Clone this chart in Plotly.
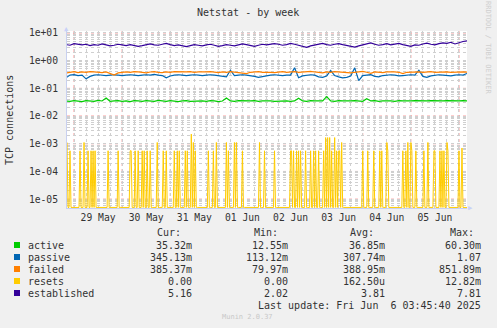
import plotly.graph_objects as go
import pandas as pd
import numpy as np

# ---------------- data ----------------
series_start = "2025-05-28 20:00"
series_end = "2025-06-06 04:00"   # 2-hour samples

active = [0.035,0.034,0.036,0.035,0.033,0.036,0.035,0.034,0.037,0.035,0.045,0.034,0.035,0.036,0.034,0.035,0.033,0.036,0.035,0.034,
          0.036,0.035,0.034,0.037,0.035,0.034,0.036,0.035,0.033,0.035,0.036,0.034,0.035,0.036,
          0.035,0.034,0.036,0.035,0.033,0.035,0.045,0.035,0.034,0.036,0.035,0.034,0.035,0.036,0.034,0.035,0.036,0.035,0.034,0.035,
          0.036,0.035,0.034,0.035,0.044,0.035,0.034,0.036,0.035,0.034,0.035,0.050,0.035,
          0.034,0.036,0.035,0.034,0.035,0.036,0.035,0.034,0.042,0.035,0.036,0.034,0.035,0.036,0.035,0.034,0.036,0.035,0.034,0.035,
          0.036,0.035,0.034,0.035,0.036,0.035,0.034,0.035,0.036,0.035,0.034,0.035,0.036,0.0353]

passive = [0.24,0.30,0.31,0.29,0.30,0.22,0.27,0.30,0.31,0.30,0.29,0.30,0.31,0.30,0.29,0.30,0.31,0.30,0.29,0.30,
           0.31,0.30,0.32,0.30,0.29,0.24,0.28,0.30,0.31,0.30,0.29,0.30,0.31,0.30,
           0.29,0.30,0.31,0.30,0.29,0.27,0.26,0.45,0.29,0.30,0.31,0.30,0.29,0.27,0.25,0.27,0.29,0.30,0.31,0.30,
           0.29,0.30,0.30,0.55,0.24,0.28,0.30,0.31,0.30,0.26,0.25,0.28,0.44,
           0.29,0.26,0.24,0.25,0.28,0.55,0.19,0.29,0.30,0.31,0.27,0.26,0.29,0.30,0.31,0.30,0.28,0.29,0.30,0.31,
           0.30,0.45,0.27,0.25,0.28,0.30,0.31,0.30,0.29,0.28,0.30,0.31,0.30,0.345]

failed = [0.36,0.38,0.40,0.37,0.39,0.38,0.40,0.39,0.38,0.37,0.39,0.34,0.30,0.36,0.38,0.39,0.38,0.40,0.39,0.38,
          0.36,0.39,0.40,0.38,0.37,0.39,0.38,0.40,0.39,0.38,0.39,0.40,0.38,0.39,
          0.38,0.39,0.40,0.38,0.37,0.39,0.38,0.40,0.39,0.38,0.36,0.34,0.38,0.39,0.40,0.38,0.39,0.38,0.37,0.39,
          0.40,0.38,0.39,0.40,0.38,0.39,0.40,0.41,0.39,0.38,0.36,0.39,0.38,
          0.40,0.39,0.38,0.39,0.36,0.38,0.40,0.41,0.38,0.35,0.39,0.38,0.37,0.39,0.40,0.39,0.38,0.34,0.38,0.39,
          0.40,0.39,0.38,0.39,0.40,0.38,0.39,0.40,0.39,0.38,0.39,0.40,0.39,0.385]

established = [3.8,3.6,4.1,4.0,3.7,3.9,3.5,3.8,3.6,4.0,3.7,3.4,3.6,3.9,3.7,3.5,3.8,3.6,3.3,3.5,
               3.8,4.0,3.7,3.6,3.9,4.2,3.8,3.5,3.7,3.4,3.2,3.5,3.8,3.6,
               3.4,3.7,3.9,3.6,3.3,3.5,3.8,3.6,3.4,3.7,4.0,3.8,3.5,3.3,3.6,3.9,3.7,3.8,4.1,3.9,
               3.6,3.8,4.2,3.9,3.5,3.2,3.0,3.4,3.7,3.9,4.2,3.8,3.6,
               3.9,4.1,3.8,3.5,3.3,3.1,3.4,3.7,4.0,4.4,3.9,3.6,3.8,4.1,3.7,3.9,4.2,3.8,3.5,3.3,
               3.7,3.6,4.0,4.3,3.9,3.7,4.1,4.4,4.2,4.6,4.0,4.5,4.9,5.16]

# resets: 30-minute samples, zero except these
resets_start = "2025-05-28 20:30"
resets_end = "2025-06-06 04:00"
reset_times = ["2025-05-28 20:30","2025-05-28 22:00","2025-05-29 03:00","2025-05-29 05:00","2025-05-29 07:00",
               "2025-05-29 08:30","2025-05-29 09:30","2025-05-29 10:30","2025-05-29 17:00","2025-05-29 22:00",
               "2025-05-30 04:00","2025-05-30 04:30","2025-05-30 06:30","2025-05-30 08:00","2025-05-30 10:00",
               "2025-05-30 11:00","2025-05-30 12:30","2025-05-30 14:00","2025-05-30 17:30","2025-05-30 20:30",
               "2025-05-30 22:00","2025-05-31 02:00","2025-05-31 03:30","2025-05-31 04:30","2025-05-31 07:30",
               "2025-05-31 08:30","2025-05-31 10:30","2025-05-31 11:30","2025-05-31 12:30","2025-05-31 19:00",
               "2025-05-31 21:30","2025-05-31 23:00","2025-06-01 04:00","2025-06-01 05:00","2025-06-01 08:00",
               "2025-06-01 09:00","2025-06-01 12:00","2025-06-01 20:30","2025-06-01 23:00","2025-06-02 04:00",
               "2025-06-02 12:00","2025-06-02 12:30","2025-06-02 13:30","2025-06-02 15:00","2025-06-02 16:00",
               "2025-06-02 17:00","2025-06-02 19:30","2025-06-02 22:00","2025-06-02 23:30","2025-06-03 00:30",
               "2025-06-03 02:00","2025-06-03 04:30","2025-06-03 05:30","2025-06-03 06:30","2025-06-03 07:30",
               "2025-06-03 08:30","2025-06-03 10:00","2025-06-03 11:00","2025-06-03 12:00","2025-06-03 12:30",
               "2025-06-03 13:30","2025-06-04 00:00","2025-06-04 02:30","2025-06-04 05:30","2025-06-04 08:30",
               "2025-06-04 09:30","2025-06-04 12:00","2025-06-04 12:30","2025-06-04 20:00","2025-06-04 21:30",
               "2025-06-04 22:30","2025-06-05 00:00","2025-06-05 00:30","2025-06-05 02:30","2025-06-05 06:30",
               "2025-06-05 08:30","2025-06-05 11:30","2025-06-05 12:00","2025-06-05 14:30","2025-06-05 15:30",
               "2025-06-05 16:30","2025-06-05 18:00","2025-06-05 18:30","2025-06-06 00:00","2025-06-06 01:30"]
reset_values = [0.00111,0.000556,0.000556,0.00111,0.000556,
                0.000556,0.000556,0.000556,0.000556,0.000556,
                0.000556,0.000556,0.000556,0.000556,0.000556,
                0.000556,0.000556,0.000556,0.00111,0.000556,
                0.000556,0.000556,0.000556,0.000556,0.000556,
                0.000556,0.00222,0.00111,0.000556,0.000556,
                0.000556,0.00111,0.00111,0.000556,0.00111,
                0.00111,0.000556,0.00111,0.000556,0.000556,
                0.000556,0.000556,0.000556,0.000556,0.000556,
                0.000556,0.000556,0.000556,0.000556,0.000556,
                0.000556,0.000556,0.00167,0.00167,0.00167,
                0.000556,0.00167,0.000556,0.000556,0.000556,
                0.00111,0.000556,0.000556,0.000556,0.000556,
                0.000556,0.00111,0.000556,0.000556,0.000556,
                0.00111,0.00111,0.000556,0.000556,0.000556,
                0.00111,0.000556,0.000556,0.000556,0.000556,
                0.000556,0.00111,0.000556,0.000556,0.0007]

names = ["active", "passive", "failed", "resets", "established"]
colors = ["#00CC00", "#0066B3", "#FF8000", "#FFCC00", "#330099"]
cur = ["35.32m", "345.13m", "385.37m", "0.00", "5.16"]
mins = ["12.55m", "113.12m", "79.97m", "0.00", "2.02"]
avgs = ["36.85m", "307.74m", "388.95m", "162.50u", "3.81"]
maxs = ["60.30m", "1.07", "851.89m", "12.82m", "7.81"]

ytick_vals = [1e1, 1e0, 1e-1, 1e-2, 1e-3, 1e-4, 1e-5]
ytick_text = ["1e+01", "1e+00", "1e-01", "1e-02", "1e-03", "1e-04", "1e-05"]

# ---------------- layout constants ----------------
W, H = 497, 328
ML, MR, MT, MB = 67, 30, 31, 120
PW, PH = W - ML - MR, H - MT - MB
YLOG = [-5.32, 1.07]
XRANGE = ["2025-05-28 20:30", "2025-06-06 04:00"]
FONT = "DejaVu Sans Mono"
TXT = "#333333"
GREY = "#CFCFCF"
RED = "rgba(255,80,80,0.6)"

def xp(px):
    return (px - ML) / PW

def yp(py):
    return (H - MB - py) / PH

t2 = pd.date_range(series_start, series_end, freq="2h")
grid30 = pd.date_range(resets_start, resets_end, freq="30min")
res = pd.Series(0.0, index=grid30)
res.loc[pd.to_datetime(reset_times)] = reset_values
floor = 10 ** (YLOG[0] + 0.02)
res_plot = np.maximum(res.values, floor)

fig = go.Figure()
data_map = {"active": active, "passive": passive, "failed": failed, "established": established}
for name, col in zip(names, colors):
    if name == "resets":
        fig.add_trace(go.Scatter(x=grid30, y=res_plot, mode="lines",
                                 line=dict(color=col, width=1), showlegend=False))
    else:
        fig.add_trace(go.Scatter(x=t2, y=data_map[name], mode="lines",
                                 line=dict(color=col, width=1.2), showlegend=False))

# all y grid positions (grey), labels only on decades
y_all = []
y_txt = []
for k in range(1, -7, -1):
    for m in range(1, 10):
        v = m * 10.0 ** k
        y_all.append(v)
        y_txt.append(ytick_text[ytick_vals.index(v)] if (m == 1 and v in ytick_vals) else "")

fig.update_layout(
    width=W, height=H,
    margin=dict(l=ML, r=MR, t=MT, b=MB, pad=0),
    paper_bgcolor="#F0F0F0", plot_bgcolor="#FFFFFF",
    font=dict(family=FONT, size=10, color=TXT),
    showlegend=False,
    xaxis=dict(
        type="date", range=XRANGE,
        tick0="2025-05-29 00:00", dtick=86400000,
        ticklabelmode="period", tickformat="%d %b",
        showgrid=True, gridcolor=GREY, griddash="dot", gridwidth=1,
        minor=dict(dtick=21600000, tick0="2025-05-29 00:00", showgrid=True,
                   gridcolor=GREY, griddash="dot", gridwidth=1),
        showline=True, linecolor="#C8D0F0", linewidth=1,
        zeroline=False, ticks="",
        tickfont=dict(family=FONT, size=9.7, color=TXT),
    ),
    yaxis=dict(
        type="log", range=YLOG,
        tickmode="array", tickvals=y_all, ticktext=y_txt,
        showgrid=True, gridcolor=GREY, griddash="dot", gridwidth=1,
        showline=True, linecolor="#C8D0F0", linewidth=1,
        zeroline=False, ticks="outside", ticklen=6, tickcolor="rgba(0,0,0,0)",
        tickfont=dict(family=FONT, size=9.7, color=TXT),
    ),
)

shapes = []
# red major grid: decades and midnights, between grid and traces
for v in ytick_vals:
    shapes.append(dict(type="line", xref="paper", yref="y", x0=0, x1=1, y0=v, y1=v,
                       layer="between", line=dict(color=RED, width=1, dash="dot")))
for d in pd.date_range("2025-05-29", "2025-06-06", freq="D"):
    shapes.append(dict(type="line", xref="x", yref="paper", x0=d, x1=d, y0=0, y1=1,
                       layer="between", line=dict(color=RED, width=1, dash="dot")))

ann = []
ann.append(dict(text="Netstat - by week", x=xp(248), y=yp(12), xref="paper", yref="paper",
                xanchor="center", yanchor="middle", showarrow=False,
                font=dict(family=FONT, size=10, color=TXT)))
ann.append(dict(text="TCP connections", x=xp(10), y=yp(120), xref="paper", yref="paper",
                xanchor="center", yanchor="middle", showarrow=False, textangle=-90,
                font=dict(family=FONT, size=10, color=TXT)))
ann.append(dict(text="RRDTOOL / TOBI OETIKER", x=xp(488), y=yp(48), xref="paper", yref="paper",
                xanchor="center", yanchor="middle", showarrow=False, textangle=90,
                font=dict(family=FONT, size=7, color="#CFCFCF")))
# arrows at axis ends
ann.append(dict(text="\u25B2", x=xp(66.5), y=yp(29), xref="paper", yref="paper",
                xanchor="center", yanchor="middle", showarrow=False,
                font=dict(family=FONT, size=7, color="#C8D0F8")))
ann.append(dict(text="\u25B6", x=xp(470), y=yp(208), xref="paper", yref="paper",
                xanchor="center", yanchor="middle", showarrow=False,
                font=dict(family=FONT, size=7, color="#C8D0F8")))

# legend table
header_y = 232
row_y = [245, 257, 269, 281, 293]
for lbl, cx in [("Cur:", 169), ("Min:", 266), ("Avg:", 362), ("Max:", 462)]:
    ann.append(dict(text=lbl, x=xp(cx), y=yp(header_y), xref="paper", yref="paper",
                    xanchor="center", yanchor="middle", showarrow=False,
                    font=dict(family=FONT, size=10, color=TXT)))
for i, name in enumerate(names):
    ry = row_y[i]
    shapes.append(dict(type="rect", xref="paper", yref="paper",
                       x0=xp(14), x1=xp(20), y0=yp(ry + 3), y1=yp(ry - 3),
                       fillcolor=colors[i], line=dict(width=0)))
    ann.append(dict(text=name, x=xp(25.5), y=yp(ry), xref="paper", yref="paper",
                    xanchor="left", yanchor="middle", showarrow=False,
                    font=dict(family=FONT, size=10, color=TXT)))
    for val, rx in [(cur[i], 194), (mins[i], 290), (avgs[i], 387), (maxs[i], 483)]:
        ann.append(dict(text=val, x=xp(rx), y=yp(ry), xref="paper", yref="paper",
                        xanchor="right", yanchor="middle", showarrow=False,
                        font=dict(family=FONT, size=10, color=TXT)))
ann.append(dict(text="Last update: Fri Jun \u00a06 03:45:40 2025", x=xp(483), y=yp(305),
                xref="paper", yref="paper", xanchor="right", yanchor="middle", showarrow=False,
                font=dict(family=FONT, size=10, color=TXT)))
ann.append(dict(text="Munin 2.0.37", x=xp(247), y=yp(317), xref="paper", yref="paper",
                xanchor="center", yanchor="middle", showarrow=False,
                font=dict(family=FONT, size=7, color="#C8C8C8")))

fig.update_layout(annotations=ann, shapes=shapes)
fig.write_html("out.html")
